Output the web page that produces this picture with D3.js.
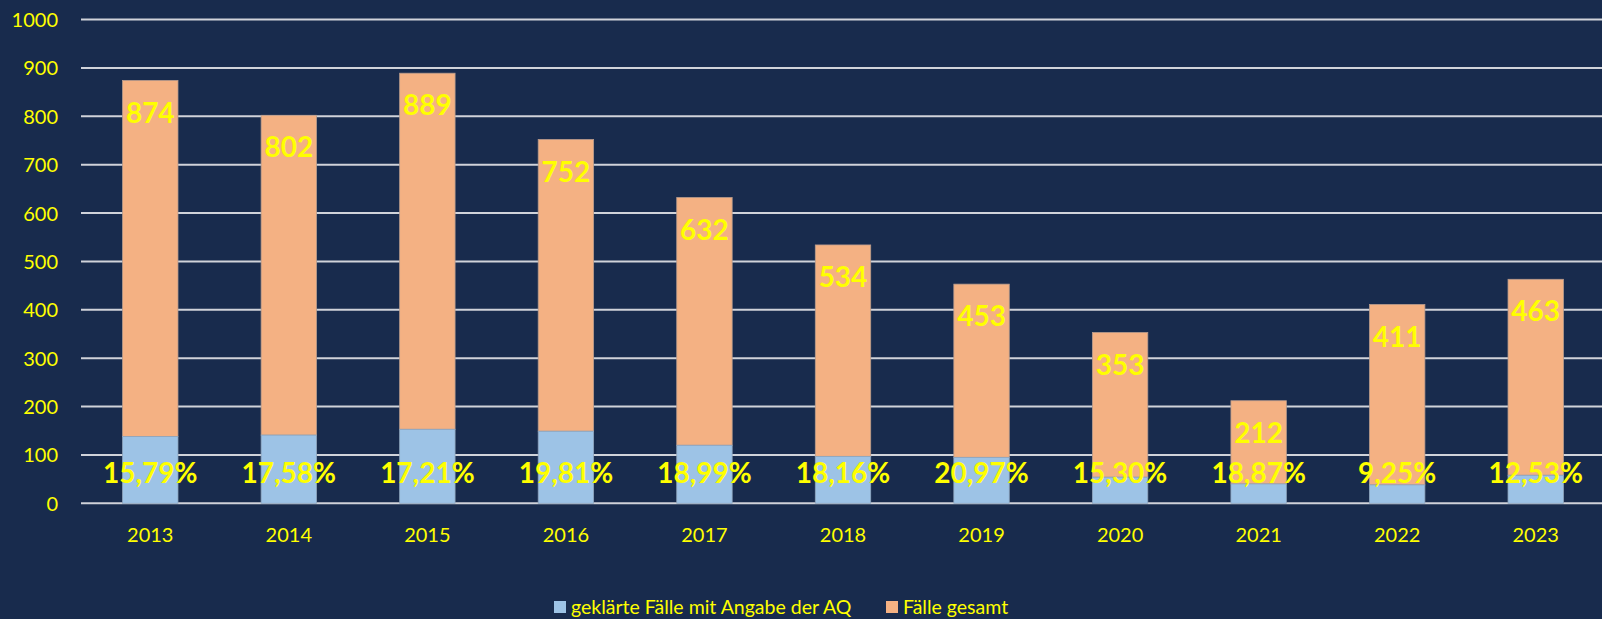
<!DOCTYPE html>
<html><head><meta charset="utf-8">
<script src="https://cdn.jsdelivr.net/npm/d3@7"></script>
<style>html,body{margin:0;padding:0;background:#182B4D;}svg{display:block;}</style>
</head><body>
<svg id="chart" width="1602" height="619"></svg>
<script>
const years = ["2013","2014","2015","2016","2017","2018","2019","2020","2021","2022","2023"];
const totalCases = [874, 802, 889, 752, 632, 534, 453, 353, 212, 411, 463];
const clearedCases = [138, 141, 153, 149, 120, 97, 95, 54, 40, 38, 58];
const percentLabels = ["15,79%","17,58%","17,21%","19,81%","18,99%","18,16%","20,97%","15,30%","18,87%","9,25%","12,53%"];
const yTicks = [0,100,200,300,400,500,600,700,800,900,1000];
const seriesNames = ["geklärte Fälle mit Angabe der AQ", "Fälle gesamt"];

(function(){
const W = 1602, H = 619;
const svg = d3.select("#chart");
svg.append("rect").attr("width", W).attr("height", H).attr("fill", "#182B4D");

const pLeft = 81, pRight = 1605, pTop = 19.5, pBottom = 503.3;
const x = d3.scaleBand().domain(years).range([pLeft, pRight]).paddingInner(0.6).paddingOuter(0.3);
const y = d3.scaleLinear().domain([0, 1000]).range([pBottom, pTop]);

const font = "Lato, 'Open Sans', sans-serif";
const yellow = "#FFFF00";

// gridlines
svg.append("g").selectAll("line").data(yTicks).join("line")
  .attr("x1", pLeft).attr("x2", W)
  .attr("y1", d => y(d)).attr("y2", d => y(d))
  .attr("stroke", "#D0D3DA").attr("stroke-width", 2);

// y axis labels
const yAxis = d3.axisLeft(y).tickValues(yTicks).tickSize(0).tickPadding(0).tickFormat(d3.format("d"));
const ya = svg.append("g").attr("transform", `translate(58,0)`).call(yAxis);
ya.select(".domain").remove();
ya.selectAll("text").attr("fill", yellow).attr("font-family", font).attr("font-size", 20).attr("dy", "0.35em");

// x axis labels
const xAxis = d3.axisBottom(x).tickSize(0).tickPadding(0);
const xa = svg.append("g").attr("transform", `translate(0,${pBottom})`).call(xAxis);
xa.select(".domain").remove();
xa.selectAll("text").attr("fill", yellow).attr("font-family", font).attr("font-size", 20).attr("dy", null).attr("y", 39);

const data = years.map((yr, i) => ({yr, total: totalCases[i], cleared: clearedCases[i], pct: percentLabels[i]}));

// orange bars (stacked above cleared)
svg.append("g").selectAll("rect").data(data).join("rect")
  .attr("x", d => x(d.yr)).attr("width", x.bandwidth())
  .attr("y", d => y(d.total)).attr("height", d => y(d.cleared) - y(d.total))
  .attr("fill", "#F4B183").attr("stroke", "#B99C8C").attr("stroke-width", 0.8);

// blue bars
svg.append("g").selectAll("rect").data(data).join("rect")
  .attr("x", d => x(d.yr)).attr("width", x.bandwidth())
  .attr("y", d => y(d.cleared)).attr("height", d => y(0) - y(d.cleared))
  .attr("fill", "#9DC3E6").attr("stroke", "#8FA6BE").attr("stroke-width", 0.8);

// total labels
svg.append("g").selectAll("text").data(data).join("text")
  .attr("x", d => x(d.yr) + x.bandwidth()/2)
  .attr("y", d => y(d.total) + 32)
  .attr("dy", "0.36em")
  .attr("text-anchor", "middle")
  .attr("fill", yellow).attr("font-family", font).attr("font-weight", "bold").attr("font-size", 28)
  .text(d => d.total);

// percent labels
svg.append("g").selectAll("text").data(data).join("text")
  .attr("x", d => x(d.yr) + x.bandwidth()/2)
  .attr("y", y(62))
  .attr("dy", "0.36em")
  .attr("text-anchor", "middle")
  .attr("fill", yellow).attr("font-family", font).attr("font-weight", "bold").attr("font-size", 28)
  .text(d => d.pct);

// legend
const legendColors = ["#9DC3E6", "#F4B183"];
const legendX = [554, 886];
const lg = svg.append("g");
seriesNames.forEach((n, i) => {
  lg.append("rect").attr("x", legendX[i]).attr("y", 601).attr("width", 12).attr("height", 12).attr("fill", legendColors[i]);
  lg.append("text").attr("x", legendX[i] + 17).attr("y", 614)
    .attr("fill", yellow).attr("font-family", font).attr("font-size", 19.5).text(n);
});
})();
</script>
</body></html>
